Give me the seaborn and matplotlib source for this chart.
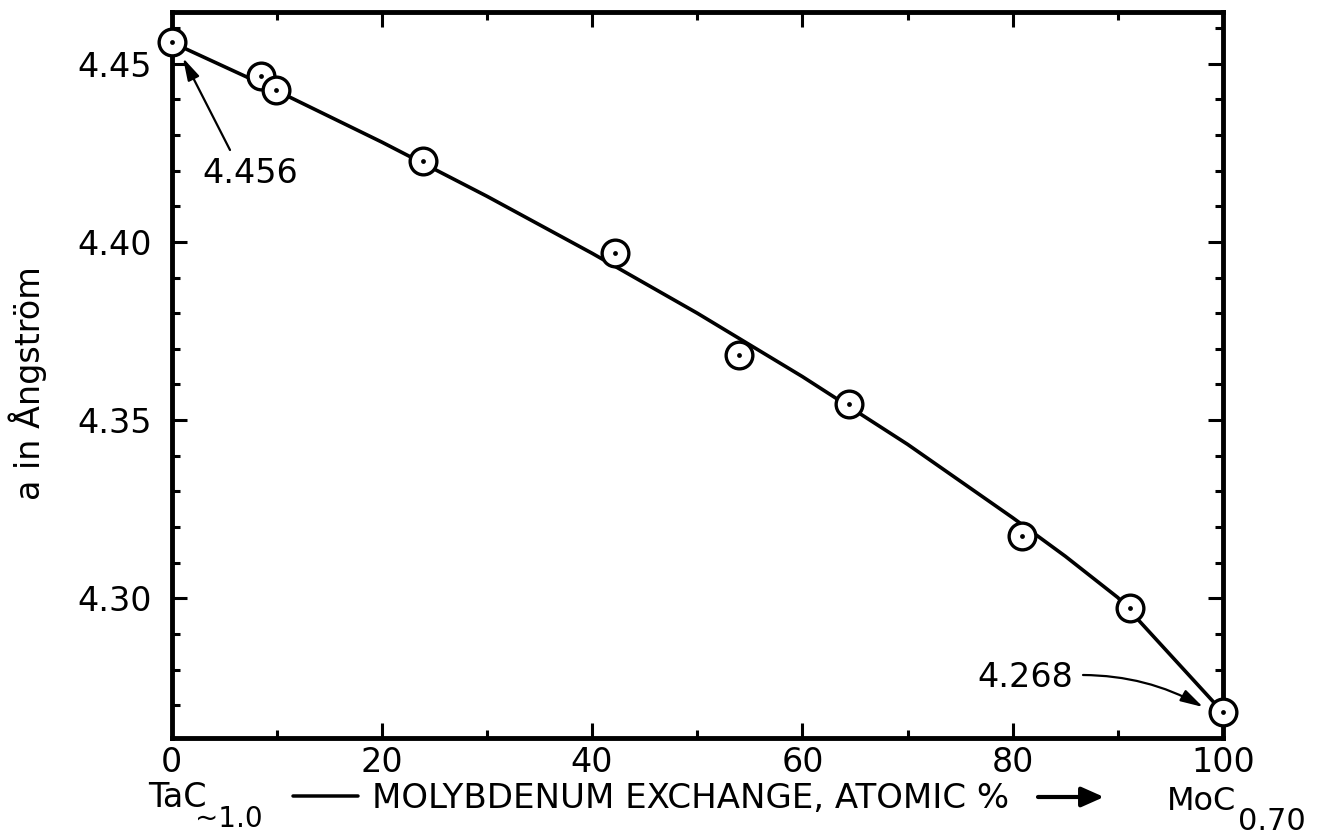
import numpy as np
import pandas as pd
import matplotlib
matplotlib.use("Agg")
import matplotlib.pyplot as plt
import seaborn as sns
from matplotlib.ticker import MultipleLocator

# measured lattice parameter vs Mo exchange
mo_pct = [0, 8.5, 9.9, 23.9, 42.2, 54.0, 64.4, 80.9, 91.2, 100]
a_ang = [4.456, 4.4466, 4.4425, 4.4227, 4.3968, 4.3683, 4.3545, 4.3176, 4.2974, 4.268]

# smooth curve drawn through the data
curve_pct = [0, 10, 20, 30, 40, 50, 60, 70, 80, 85, 90, 95, 100]
curve_a = [4.4560, 4.4424, 4.4280, 4.4128, 4.3968, 4.3800, 4.3622, 4.3432,
           4.3226, 4.3118, 4.3002, 4.2841, 4.2680]

x_ticks = [0, 20, 40, 60, 80, 100]
y_ticks = [4.30, 4.35, 4.40, 4.45]

W, H = 1318, 835


def fx(px):
    return px / W


def fy(py):
    return 1 - py / H


sns.set_style("ticks")
plt.rcParams["font.family"] = ["DejaVu Sans"]
plt.rcParams["text.color"] = "black"
plt.rcParams["xtick.color"] = "black"
plt.rcParams["ytick.color"] = "black"
plt.rcParams["axes.edgecolor"] = "black"

fig = plt.figure(figsize=(W / 100, H / 100), dpi=100)
ax = fig.add_axes([fx(171.5), fy(738), (1223 - 171.5) / W, (738 - 12) / H])

points = pd.DataFrame({"mo": mo_pct, "a": a_ang})
curve = pd.DataFrame({"mo": curve_pct, "a": curve_a})

sns.lineplot(
    data=curve, x="mo", y="a",
    color="black", linewidth=2.6,
    sort=False, estimator=None,
    ax=ax, zorder=2
)

sns.scatterplot(
    data=points, x="mo", y="a",
    s=370, color="white", edgecolor="black", linewidth=2.4,
    ax=ax, zorder=3, clip_on=False
)

sns.scatterplot(
    data=points, x="mo", y="a",
    s=12, color="black", linewidth=0,
    ax=ax, zorder=4, clip_on=False
)

ax.set_xlim(0, 100)
ax.set_ylim(4.2608, 4.4645)

ax.set_xticks(x_ticks)
ax.set_xticklabels([str(v) for v in x_ticks])
ax.set_yticks(y_ticks)
ax.set_yticklabels([f"{v:.2f}" for v in y_ticks])
ax.xaxis.set_minor_locator(MultipleLocator(10))
ax.yaxis.set_minor_locator(MultipleLocator(0.01))

ax.tick_params(which="both", direction="in", top=True, right=True,
               width=2.2, color="black", labelcolor="black")
ax.tick_params(which="major", length=11)
ax.tick_params(which="minor", length=5.5)
ax.tick_params(axis="x", which="major", labelsize=24, pad=6)
ax.tick_params(axis="y", which="major", labelsize=24, pad=14)

for sp in ax.spines.values():
    sp.set_linewidth(3.5)
    sp.set_color("black")

ax.set_xlabel("")
ax.set_ylabel("")

# y label
fig.text(fx(28), fy(383), "a in Ångström", rotation=90,
         fontsize=24, ha="center", va="center")

# x label pieces
fig.text(fx(177), fy(807), "TaC", fontsize=24, ha="center", va="baseline")
fig.text(fx(229), fy(827), "~1.0", fontsize=20, ha="center", va="baseline")
ax.annotate(
    "", xy=(fx(358), fy(796)), xytext=(fx(293), fy(796)),
    xycoords="figure fraction", textcoords="figure fraction",
    arrowprops=dict(arrowstyle="-", lw=2.5, color="black",
                    shrinkA=0, shrinkB=0),
    annotation_clip=False
)
fig.text(fx(691), fy(808), "MOLYBDENUM EXCHANGE, ATOMIC %",
         fontsize=24.5, ha="center", va="baseline")
fig.text(fx(1201), fy(810), "MoC", fontsize=23, ha="center", va="baseline")
fig.text(fx(1272), fy(830), "0.70", fontsize=22, ha="center", va="baseline")

ax.annotate(
    "", xy=(fx(1104), fy(797)), xytext=(fx(1038), fy(797)),
    xycoords="figure fraction", textcoords="figure fraction",
    arrowprops=dict(arrowstyle="-|>,head_length=0.9,head_width=0.4",
                    lw=3, color="black", mutation_scale=15,
                    shrinkA=0, shrinkB=0),
    annotation_clip=False
)

# endpoint labels
fig.text(fx(250), fy(183), f"{a_ang[0]:.3f}", fontsize=24,
         ha="center", va="baseline")
ax.annotate(
    "", xy=(fx(183), fy(58)), xytext=(fx(230), fy(150)),
    xycoords="figure fraction", textcoords="figure fraction",
    arrowprops=dict(arrowstyle="-|>,head_length=0.9,head_width=0.25",
                    lw=1.6, color="black", mutation_scale=15,
                    shrinkA=0, shrinkB=0),
    annotation_clip=False
)

fig.text(fx(1025), fy(687), f"{a_ang[-1]:.3f}", fontsize=24,
         ha="center", va="baseline")
ax.annotate(
    "", xy=(fx(1203), fy(707)), xytext=(fx(1083), fy(675)),
    xycoords="figure fraction", textcoords="figure fraction",
    arrowprops=dict(arrowstyle="-|>,head_length=0.9,head_width=0.25",
                    lw=1.6, color="black", mutation_scale=15,
                    shrinkA=0, shrinkB=0,
                    connectionstyle="arc3,rad=-0.13"),
    annotation_clip=False
)

fig.savefig("out.png", dpi=100)
